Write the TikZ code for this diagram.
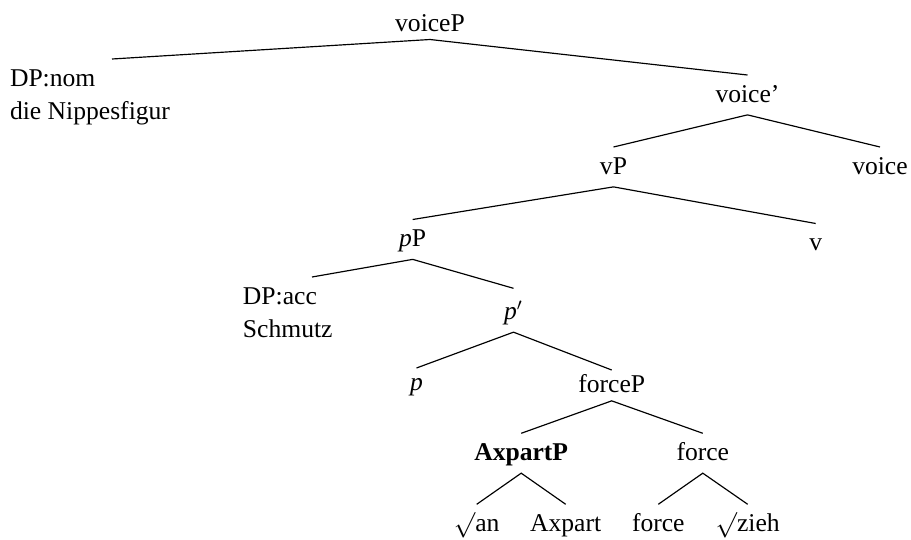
\documentclass[tikz,border=0pt]{standalone}
\usepackage{fontspec}
\setmainfont{Liberation Serif}
\begin{document}
\begin{tikzpicture}[x=0.46875pt,y=-0.46875pt,
  cat/.style={inner sep=0pt, anchor=north, text height=12.66pt, text depth=5.63pt,
    font=\fontsize{12pt}{15.5pt}\selectfont},
  branch/.style={line width=0.55pt}]
\useasboundingbox (0,0) rectangle (911,540);

% categories and terminals
\node[cat, anchor=south, text depth=3.5pt] (voiceP) at (430,39.5) {voiceP};
\node[cat] (dpnom) at (112,59) {\parbox[t]{95.6pt}{DP:nom\\die Nippesfigur}};
\node[cat] (voicebar) at (747.5,75) {voice'};
\node[cat] (vP) at (613.5,147) {vP};
\node[cat] (voice) at (880,147) {voice};
\node[cat] (pP) at (412.7,219.5) {\textit{p}P};
\node[cat] (v) at (815.7,223.5) {v};
\node[cat] (dpacc) at (312,277) {\parbox[t]{64.7pt}{DP:acc\\Schmutz}};
\node[cat, text height=14.53pt] (pbar) at (513.5,288.3) {\textit{p}$'$};
\node[cat, text height=10.31pt] (p) at (416.5,368) {\textit{p}};
\node[cat, text height=10.31pt, text depth=3.75pt] (forceP) at (611.7,370) {forceP};
\node[cat] (AxpartP) at (521.2,433.3) {\textbf{AxpartP}};
\node[cat] (force) at (702.8,433.3) {force};
\node[cat] (an) at (476.7,504.3) {$\surd$an};
\node[cat] (Axpart) at (565.7,504.3) {Axpart};
\node[cat] (forcehead) at (658.3,504.3) {force};
\node[cat] (zieh) at (747.7,504.3) {$\surd$zieh};

% branches
\draw[branch] (dpnom.north) -- (voiceP.south) -- (voicebar.north);
\draw[branch] (vP.north) -- (voicebar.south) -- (voice.north);
\draw[branch] (pP.north) -- (vP.south) -- (v.north);
\draw[branch] (dpacc.north) -- (pP.south) -- (pbar.north);
\draw[branch] (p.north) -- (pbar.south) -- (forceP.north);
\draw[branch] (AxpartP.north) -- (forceP.south) -- (force.north);
\draw[branch] (an.north) -- (AxpartP.south) -- (Axpart.north);
\draw[branch] (forcehead.north) -- (force.south) -- (zieh.north);
\end{tikzpicture}
\end{document}
